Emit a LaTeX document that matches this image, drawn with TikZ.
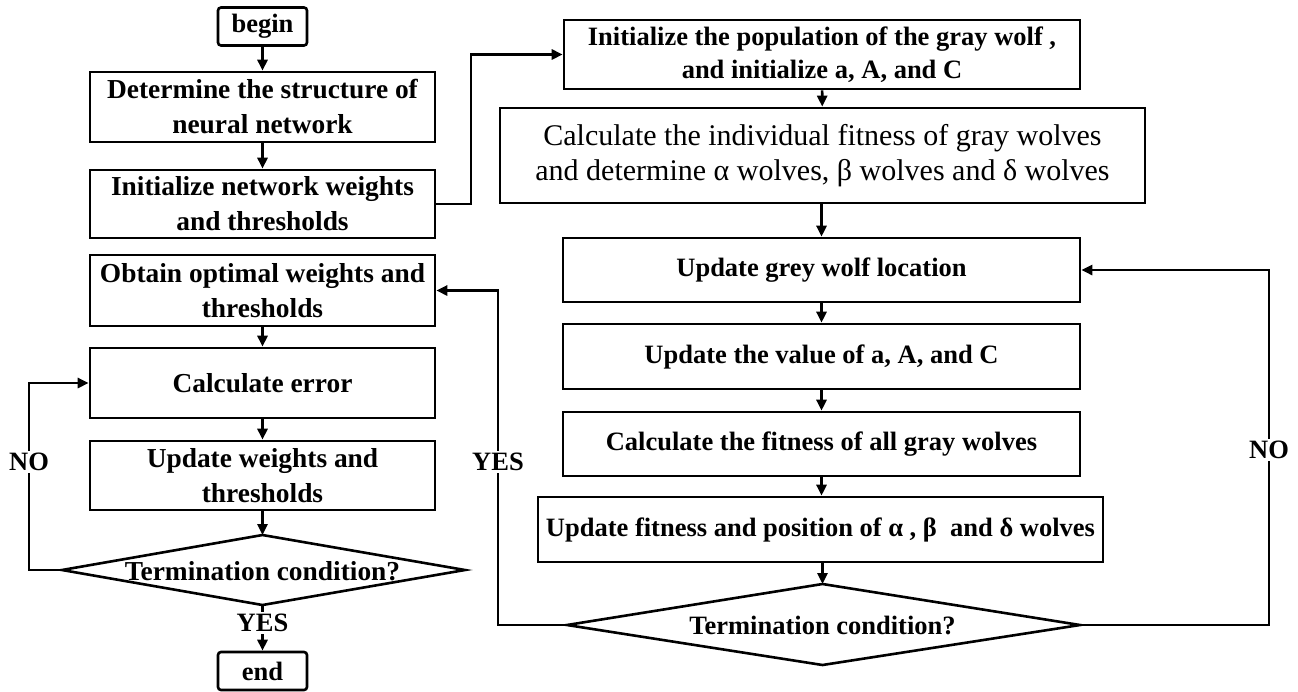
\documentclass[tikz,border=0pt]{standalone}
\usepackage{fontspec}
\setmainfont{Liberation Serif}
\usetikzlibrary{arrows.meta}
\begin{document}
\begin{tikzpicture}[x=1pt,y=-1pt,
  every node/.style={font=\fontsize{26.5}{33}\selectfont\bfseries, align=center, inner sep=0pt},
  box/.style={draw, line width=2.6pt, fill=white},
  lbox/.style={box, font=\fontsize{27.4}{35}\selectfont\bfseries},
  term/.style={box, rounded corners=3pt},
  lbl/.style={fill=white, inner sep=2pt},
  conn/.style={line width=2.6pt, -{Triangle[length=11pt,width=10pt]}},
  plain/.style={line width=2.6pt}]
\useasboundingbox (0,0) rectangle (1298,691);
% left column
\node[term, minimum width=89pt, minimum height=38pt] (begin) at (262.5,26.5) {begin};
\node[lbox, minimum width=345pt, minimum height=70pt] (det) at (262.5,107) {Determine the structure of\\neural network};
\node[lbox, minimum width=345pt, minimum height=68pt] (initnet) at (262.5,204) {Initialize network weights\\and thresholds};
\node[lbox, minimum width=345pt, minimum height=71pt] (obtain) at (262.5,290.5) {Obtain optimal weights and\\thresholds};
\node[lbox, minimum width=345pt, minimum height=70pt] (calc) at (262.5,383) {Calculate error};
\node[lbox, minimum width=345pt, minimum height=69pt] (upd) at (262.5,475.5) {Update weights and\\thresholds};
\coordinate (lt) at (262.5,535);
\coordinate (lb) at (262.5,605);
\coordinate (ll) at (62,570);
\coordinate (lr) at (465,570);
\draw[plain, fill=white, line join=miter] (lt) -- (lr) -- (lb) -- (ll) -- cycle;
\node[font=\fontsize{27.4}{33}\selectfont\bfseries] (ldia) at (262.5,571) {Termination condition?};
\node[term, minimum width=89pt, minimum height=38pt] (end) at (262.5,671) {end};
% right column
\node[box, minimum width=516pt, minimum height=69pt] (initpop) at (822,54.5) {Initialize the population of the gray wolf ,\\and initialize a, A, and C};
\node[box, minimum width=645pt, minimum height=95pt, font=\fontsize{30}{35}\selectfont] (calcind) at (822.5,155.5) {Calculate the individual fitness of gray wolves\\and determine α wolves, β wolves and δ wolves};
\node[box, minimum width=517pt, minimum height=64pt] (ugw) at (821.5,270) {Update grey wolf location};
\node[box, minimum width=517pt, minimum height=65pt] (uval) at (821.5,356.5) {Update the value of a, A, and C};
\node[box, minimum width=517pt, minimum height=64pt] (cfit) at (821.5,444) {Calculate the fitness of all gray wolves};
\node[box, minimum width=565pt, minimum height=65pt] (ufp) at (820.5,529.5) {Update fitness and position of α , β\ \ and δ wolves};
\coordinate (rt) at (822.5,584);
\coordinate (rb) at (822.5,665);
\coordinate (rl) at (567,625);
\coordinate (rr) at (1080,625);
\draw[plain, fill=white, line join=miter] (rt) -- (rr) -- (rb) -- (rl) -- cycle;
\node (rdia) at (822.5,625) {Termination condition?};
% connectors left
\draw[conn] (begin) -- (det);
\draw[conn] (det) -- (initnet);
\draw[conn] (obtain) -- (calc);
\draw[conn] (calc) -- (upd);
\draw[conn] (upd) -- (lt);
\coordinate (lnoc) at (29,570);
\draw[plain] (ll) -- (lnoc) -- (29,462) coordinate (lnomid);
\draw[conn] (lnomid) -- (29,383) -- (calc.west);
\node[lbl] (lno) at (lnomid) {NO};
\draw[conn] (lb) -- (end);
\node[lbl] (lyes) at (262.5,623) {YES};
% connectors right
\coordinate (jn) at (471,54.5);
\draw[conn] (initnet.east) -| (jn) -- (initpop.west);
\draw[conn] (initpop) -- (calcind);
\draw[conn] (calcind.south -| ugw) -- (ugw);
\draw[conn] (ugw) -- (uval);
\draw[conn] (uval) -- (cfit);
\draw[conn] (cfit) -- (cfit |- ufp.north);
\draw[conn] (ufp.south -| rt) -- (rt);
\coordinate (rno) at (1269,450);
\draw[conn] (rr) -| (rno) |- (ugw.east);
\node[lbl] (rnolbl) at (rno) {NO};
\coordinate (ryes) at (498,462);
\draw[conn] (rl) -| (ryes) |- (obtain.east);
\node[lbl] (ryeslbl) at (ryes) {YES};
\end{tikzpicture}
\end{document}
